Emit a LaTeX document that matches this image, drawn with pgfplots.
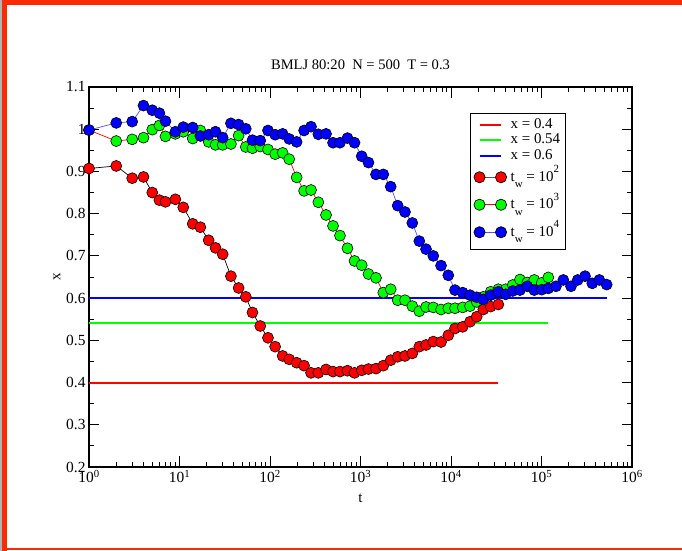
\documentclass[border=0pt]{standalone}
\usepackage{fontspec}
\setmainfont{Liberation Serif}
\usepackage{pgfplots}
\usepackage{pgfplotstable}
\pgfplotsset{compat=1.18}
\definecolor{myred}{RGB}{255,0,0}
\definecolor{mygreen}{RGB}{0,255,0}
\definecolor{myblue}{RGB}{0,0,255}
\definecolor{lightblue}{RGB}{80,80,255}
\definecolor{border}{RGB}{250,42,5}
\newcommand{\lf}{\fontsize{15}{16}\selectfont}
\newcommand{\lx}[1]{\lf\rule[-3.5bp]{0pt}{14.5bp}x = #1}
\newcommand{\tw}[1]{\lf\rule[-9bp]{0pt}{26.5bp}t\raisebox{-6.5bp}{\fontsize{11}{12}\selectfont w} = 10\raisebox{8.5bp}{\fontsize{11}{12}\selectfont #1}}

\pgfplotstableread{
t y
1 0.907
2 0.913
3 0.884
4 0.887
5 0.850
6 0.832
7 0.828
9 0.834
11 0.815
14 0.776
17 0.768
21 0.737
25 0.719
30 0.704
37 0.652
45 0.624
54 0.603
64 0.566
78 0.534
95 0.506
114 0.485
138 0.463
163 0.455
197 0.447
238 0.440
284 0.423
342 0.423
416 0.431
497 0.426
593 0.426
718 0.428
859 0.423
1031 0.429
1225 0.432
1483 0.433
1786 0.440
2157 0.453
2576 0.461
3102 0.463
3736 0.469
4463 0.485
5296 0.489
6371 0.497
7762 0.496
9333 0.512
11070 0.528
13460 0.532
16220 0.544
19230 0.556
22750 0.573
27460 0.580
33330 0.585
}\redtab

\pgfplotstableread{
t y
1 0.998
2 0.972
3 0.976
4 0.980
5 0.999
6 1.009
7 0.983
9 0.989
11 0.994
14 0.978
17 0.997
21 0.970
25 0.963
30 0.963
37 0.965
45 0.985
54 0.958
64 0.955
78 0.959
95 0.952
114 0.941
138 0.944
163 0.929
197 0.886
238 0.854
284 0.856
342 0.827
416 0.797
497 0.771
593 0.748
718 0.718
859 0.688
1031 0.678
1225 0.657
1483 0.648
1786 0.613
2157 0.621
2576 0.595
3102 0.595
3736 0.581
4463 0.569
5296 0.579
6371 0.578
7762 0.573
9333 0.576
11070 0.576
13460 0.578
16220 0.581
19230 0.591
22750 0.603
27460 0.615
33330 0.621
40180 0.621
48080 0.631
57810 0.644
69660 0.637
83180 0.643
100500 0.636
118900 0.649
}\greentab

\pgfplotstableread{
t y
1 0.998
2 1.015
3 1.018
4 1.056
5 1.045
6 1.038
7 1.019
9 0.994
11 1.005
14 1.004
17 0.984
21 0.987
25 0.994
30 0.980
37 1.014
45 1.011
54 1.001
64 0.974
78 0.973
95 0.997
114 0.987
138 0.989
163 0.977
197 0.970
238 0.997
284 1.006
342 0.988
416 0.989
497 0.968
593 0.968
718 0.979
859 0.968
1031 0.936
1225 0.921
1483 0.893
1786 0.893
2157 0.864
2576 0.819
3102 0.804
3736 0.778
4463 0.735
5296 0.716
6371 0.700
7762 0.677
9333 0.654
11070 0.619
13460 0.613
16220 0.607
19230 0.602
22750 0.597
27460 0.607
33330 0.615
40180 0.609
48080 0.617
57810 0.619
69660 0.628
83180 0.619
100500 0.620
118900 0.623
144500 0.628
174200 0.643
211800 0.628
251200 0.643
302700 0.652
364000 0.635
435500 0.643
525000 0.632
}\bluetab

\pgfplotsset{
  hlleg/.style={legend image code/.code={\draw[##1] (0bp,0bp) -- (21.5bp,0bp);}},
  mkleg/.style={legend image code/.code={\draw[##1] plot coordinates {(0bp,0bp) (21.5bp,0bp)};}},
}

\begin{document}
\begin{tikzpicture}
\useasboundingbox (0bp,0bp) rectangle (682bp,551bp);
\fill[gray!60] (0bp,0bp) rectangle (2bp,551bp);
\fill[border] (2bp,0bp) rectangle (6.5bp,551bp);
\fill[border] (2bp,546bp) rectangle (682bp,550.5bp);
\fill[border] (2bp,1bp) rectangle (682bp,2.8bp);
\begin{axis}[
  at={(89bp,84bp)}, anchor=south west,
  scale only axis, width=543bp, height=380bp,
  xmode=log, xmin=1, xmax=1e6, ymin=0.2, ymax=1.1,
  xtick={1,10,100,1000,10000,100000,1000000},
  xticklabels={10\textsuperscript{0},10\textsuperscript{1},10\textsuperscript{2},10\textsuperscript{3},10\textsuperscript{4},10\textsuperscript{5},10\textsuperscript{6}},
  minor xtick={2,3,4,5,6,7,8,9,20,30,40,50,60,70,80,90,200,300,400,500,600,700,800,900,2000,3000,4000,5000,6000,7000,8000,9000,20000,30000,40000,50000,60000,70000,80000,90000,200000,300000,400000,500000,600000,700000,800000,900000},
  ytick={0.2,0.3,0.4,0.5,0.6,0.7,0.8,0.9,1.0,1.1},
  yticklabels={0.2,0.3,0.4,0.5,0.6,0.7,0.8,0.9,1,1.1},
  minor ytick={0.25,0.35,0.45,0.55,0.65,0.75,0.85,0.95,1.05},
  major tick length=10.5bp, minor tick length=5bp,
  every tick/.style={black, line width=1bp},
  axis line style={line width=1.4bp},
  tick label style={font=\fontsize{15.5}{17}\selectfont},
  title={BMLJ 80:20\ \ N = 500\ \ T = 0.3},
  title style={at={(axis description cs:0.5,1.0316)}, anchor=base, font=\fontsize{14.6}{16}\selectfont},
  xlabel={t},
  xlabel style={at={(axis description cs:0.5,-0.0947)}, anchor=base, font=\fontsize{15}{16}\selectfont},
  ylabel={x},
  ylabel style={at={(axis description cs:-0.0589,0.5)}, anchor=center, font=\fontsize{15}{16}\selectfont},
  legend style={at={(axis description cs:0.7017,0.9316)}, anchor=north west, draw=black, line width=1bp,
     inner xsep=3.4bp, inner ysep=3.5bp, nodes={inner xsep=2bp, inner ysep=0.5bp, text depth=},
     /tikz/every odd column/.append style={column sep=2bp}},
  legend cell align=left,
]
\addlegendimage{hlleg, color=myred, line width=1.8bp}
\addlegendentry{\lx{0.4}}
\addlegendimage{hlleg, color=mygreen, line width=1.8bp}
\addlegendentry{\lx{0.54}}
\addlegendimage{hlleg, color=myblue, line width=1.8bp}
\addlegendentry{\lx{0.6}}
\addlegendimage{mkleg, color=black!65, line width=1.2bp, mark=*, mark size=5.6bp, mark options={fill=myred, draw=black, line width=0.7bp}}
\addlegendentry{\tw{2}}
\addlegendimage{mkleg, color=myred, line width=1.2bp, mark=*, mark size=5.6bp, mark options={fill=mygreen, draw=black, line width=0.7bp}}
\addlegendentry{\tw{3}}
\addlegendimage{mkleg, color=lightblue, line width=1.2bp, mark=*, mark size=5.6bp, mark options={fill=myblue, draw=black, line width=0.7bp}}
\addlegendentry{\tw{4}}

\addplot[forget plot, color=myred, line width=2bp] coordinates {(1,0.4) (33330,0.4)};
\addplot[forget plot, color=mygreen, line width=2bp] coordinates {(1,0.54) (118900,0.54)};
\addplot[forget plot, color=myblue, line width=2bp] coordinates {(1,0.6) (525000,0.6)};

\addplot[forget plot, color=myred, line width=0.7bp, mark=*, mark size=5.5bp, mark options={fill=mygreen, draw=black, line width=0.6bp}] table[x=t, y=y] {\greentab};
\addplot[forget plot, color=black, line width=0.7bp, mark=*, mark size=5.5bp, mark options={fill=myred, draw=black, line width=0.6bp}] table[x=t, y=y] {\redtab};
\addplot[forget plot, color=lightblue, line width=0.7bp, mark=*, mark size=5.5bp, mark options={fill=myblue, draw=black, line width=0.6bp}] table[x=t, y=y] {\bluetab};
\end{axis}
\end{tikzpicture}
\end{document}
